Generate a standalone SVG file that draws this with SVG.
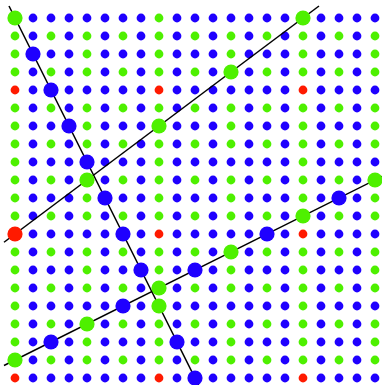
<svg xmlns="http://www.w3.org/2000/svg" xmlns:xlink="http://www.w3.org/1999/xlink" width="382" height="385" viewBox="0 0 382 385">
<style>
.b{fill:#1f00ff}.g{fill:#4ef000}.r{fill:#ff1a00}
.ln{stroke:#000;stroke-width:1.5;fill:none}
</style>
<defs>
<g id="row0">
<circle class="g" cx="15" cy="0" r="4.4"/><circle class="b" cx="33" cy="0" r="4.4"/><circle class="b" cx="51" cy="0" r="4.4"/><circle class="b" cx="69" cy="0" r="4.4"/><circle class="b" cx="87" cy="0" r="4.4"/><circle class="b" cx="105" cy="0" r="4.4"/><circle class="b" cx="123" cy="0" r="4.4"/><circle class="b" cx="141" cy="0" r="4.4"/><circle class="g" cx="159" cy="0" r="4.4"/><circle class="b" cx="177" cy="0" r="4.4"/><circle class="b" cx="195" cy="0" r="4.4"/><circle class="b" cx="213" cy="0" r="4.4"/><circle class="b" cx="231" cy="0" r="4.4"/><circle class="b" cx="249" cy="0" r="4.4"/><circle class="b" cx="267" cy="0" r="4.4"/><circle class="b" cx="285" cy="0" r="4.4"/><circle class="g" cx="303" cy="0" r="4.4"/><circle class="b" cx="321" cy="0" r="4.4"/><circle class="b" cx="339" cy="0" r="4.4"/><circle class="b" cx="357" cy="0" r="4.4"/><circle class="b" cx="375" cy="0" r="4.4"/>
</g>
<g id="rowOdd">
<circle class="g" cx="15" cy="0" r="4.4"/><circle class="b" cx="33" cy="0" r="4.4"/><circle class="g" cx="51" cy="0" r="4.4"/><circle class="b" cx="69" cy="0" r="4.4"/><circle class="g" cx="87" cy="0" r="4.4"/><circle class="b" cx="105" cy="0" r="4.4"/><circle class="g" cx="123" cy="0" r="4.4"/><circle class="b" cx="141" cy="0" r="4.4"/><circle class="g" cx="159" cy="0" r="4.4"/><circle class="b" cx="177" cy="0" r="4.4"/><circle class="g" cx="195" cy="0" r="4.4"/><circle class="b" cx="213" cy="0" r="4.4"/><circle class="g" cx="231" cy="0" r="4.4"/><circle class="b" cx="249" cy="0" r="4.4"/><circle class="g" cx="267" cy="0" r="4.4"/><circle class="b" cx="285" cy="0" r="4.4"/><circle class="g" cx="303" cy="0" r="4.4"/><circle class="b" cx="321" cy="0" r="4.4"/><circle class="g" cx="339" cy="0" r="4.4"/><circle class="b" cx="357" cy="0" r="4.4"/><circle class="g" cx="375" cy="0" r="4.4"/>
</g>
<g id="row2">
<circle class="g" cx="15" cy="0" r="4.4"/><circle class="b" cx="33" cy="0" r="4.4"/><circle class="b" cx="51" cy="0" r="4.4"/><circle class="b" cx="69" cy="0" r="4.4"/><circle class="g" cx="87" cy="0" r="4.4"/><circle class="b" cx="105" cy="0" r="4.4"/><circle class="b" cx="123" cy="0" r="4.4"/><circle class="b" cx="141" cy="0" r="4.4"/><circle class="g" cx="159" cy="0" r="4.4"/><circle class="b" cx="177" cy="0" r="4.4"/><circle class="b" cx="195" cy="0" r="4.4"/><circle class="b" cx="213" cy="0" r="4.4"/><circle class="g" cx="231" cy="0" r="4.4"/><circle class="b" cx="249" cy="0" r="4.4"/><circle class="b" cx="267" cy="0" r="4.4"/><circle class="b" cx="285" cy="0" r="4.4"/><circle class="g" cx="303" cy="0" r="4.4"/><circle class="b" cx="321" cy="0" r="4.4"/><circle class="b" cx="339" cy="0" r="4.4"/><circle class="b" cx="357" cy="0" r="4.4"/><circle class="g" cx="375" cy="0" r="4.4"/>
</g>
<g id="row4">
<circle class="r" cx="15" cy="0" r="4.4"/><circle class="b" cx="33" cy="0" r="4.4"/><circle class="b" cx="51" cy="0" r="4.4"/><circle class="b" cx="69" cy="0" r="4.4"/><circle class="b" cx="87" cy="0" r="4.4"/><circle class="b" cx="105" cy="0" r="4.4"/><circle class="b" cx="123" cy="0" r="4.4"/><circle class="b" cx="141" cy="0" r="4.4"/><circle class="r" cx="159" cy="0" r="4.4"/><circle class="b" cx="177" cy="0" r="4.4"/><circle class="b" cx="195" cy="0" r="4.4"/><circle class="b" cx="213" cy="0" r="4.4"/><circle class="b" cx="231" cy="0" r="4.4"/><circle class="b" cx="249" cy="0" r="4.4"/><circle class="b" cx="267" cy="0" r="4.4"/><circle class="b" cx="285" cy="0" r="4.4"/><circle class="r" cx="303" cy="0" r="4.4"/><circle class="b" cx="321" cy="0" r="4.4"/><circle class="b" cx="339" cy="0" r="4.4"/><circle class="b" cx="357" cy="0" r="4.4"/><circle class="b" cx="375" cy="0" r="4.4"/>
</g>
</defs>
<rect width="382" height="385" fill="#fff"/>
<g id="grid">
<use href="#row0" xlink:href="#row0" y="18"/>
<use href="#rowOdd" xlink:href="#rowOdd" y="36"/>
<use href="#row2" xlink:href="#row2" y="54"/>
<use href="#rowOdd" xlink:href="#rowOdd" y="72"/>
<use href="#row4" xlink:href="#row4" y="90"/>
<use href="#rowOdd" xlink:href="#rowOdd" y="108"/>
<use href="#row2" xlink:href="#row2" y="126"/>
<use href="#rowOdd" xlink:href="#rowOdd" y="144"/>
<use href="#row0" xlink:href="#row0" y="162"/>
<use href="#rowOdd" xlink:href="#rowOdd" y="180"/>
<use href="#row2" xlink:href="#row2" y="198"/>
<use href="#rowOdd" xlink:href="#rowOdd" y="216"/>
<use href="#row4" xlink:href="#row4" y="234"/>
<use href="#rowOdd" xlink:href="#rowOdd" y="252"/>
<use href="#row2" xlink:href="#row2" y="270"/>
<use href="#rowOdd" xlink:href="#rowOdd" y="288"/>
<use href="#row0" xlink:href="#row0" y="306"/>
<use href="#rowOdd" xlink:href="#rowOdd" y="324"/>
<use href="#row2" xlink:href="#row2" y="342"/>
<use href="#rowOdd" xlink:href="#rowOdd" y="360"/>
<use href="#row4" xlink:href="#row4" y="378"/>
</g>
<g id="connectors">
<line class="ln" x1="9" y1="6" x2="200" y2="388"/>
<line class="ln" x1="4" y1="242.25" x2="319" y2="6"/>
<line class="ln" x1="4" y1="365.5" x2="390" y2="172.5"/>
</g>
<g id="line1-nodes">
<g id="a0"><circle class="g" cx="15" cy="18" r="7.6"/></g>
<g id="a1"><circle class="b" cx="33" cy="54" r="7.6"/></g>
<g id="a2"><circle class="b" cx="51" cy="90" r="7.6"/></g>
<g id="a3"><circle class="b" cx="69" cy="126" r="7.6"/></g>
<g id="a4"><circle class="b" cx="87" cy="162" r="7.6"/></g>
<g id="a5"><circle class="b" cx="105" cy="198" r="7.6"/></g>
<g id="a6"><circle class="b" cx="123" cy="234" r="7.6"/></g>
<g id="a7"><circle class="b" cx="141" cy="270" r="7.6"/></g>
<g id="a8"><circle class="g" cx="159" cy="306" r="7.6"/></g>
<g id="a9"><circle class="b" cx="177" cy="342" r="7.6"/></g>
<g id="a10"><circle class="b" cx="195" cy="378" r="7.6"/></g>
</g>
<g id="line2-nodes">
<g id="b0"><circle class="r" cx="15" cy="234" r="7.6"/></g>
<g id="b1"><circle class="g" cx="87" cy="180" r="7.6"/></g>
<g id="b2"><circle class="g" cx="159" cy="126" r="7.6"/></g>
<g id="b3"><circle class="g" cx="231" cy="72" r="7.6"/></g>
<g id="b4"><circle class="g" cx="303" cy="18" r="7.6"/></g>
</g>
<g id="line3-nodes">
<g id="c0"><circle class="g" cx="15" cy="360" r="7.6"/></g>
<g id="c1"><circle class="b" cx="51" cy="342" r="7.6"/></g>
<g id="c2"><circle class="g" cx="87" cy="324" r="7.6"/></g>
<g id="c3"><circle class="b" cx="123" cy="306" r="7.6"/></g>
<g id="c4"><circle class="g" cx="159" cy="288" r="7.6"/></g>
<g id="c5"><circle class="b" cx="195" cy="270" r="7.6"/></g>
<g id="c6"><circle class="g" cx="231" cy="252" r="7.6"/></g>
<g id="c7"><circle class="b" cx="267" cy="234" r="7.6"/></g>
<g id="c8"><circle class="g" cx="303" cy="216" r="7.6"/></g>
<g id="c9"><circle class="b" cx="339" cy="198" r="7.6"/></g>
<g id="c10"><circle class="g" cx="375" cy="180" r="7.6"/></g>
</g>
</svg>
